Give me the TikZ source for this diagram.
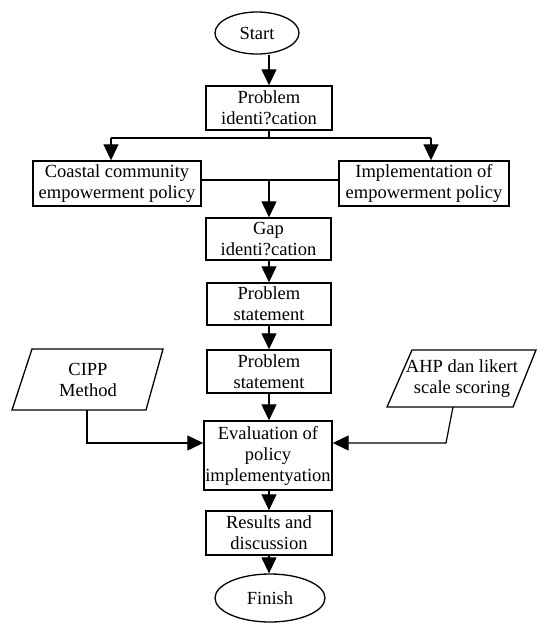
\documentclass[tikz,border=0pt]{standalone}
\usepackage{fontspec}
\setmainfont{Liberation Serif}
\usetikzlibrary{arrows.meta,shapes.geometric}
\begin{document}
\begin{tikzpicture}[x=1pt,y=-1pt,
  every node/.style={font=\fontsize{18.5}{21}\selectfont, align=center, inner sep=0pt},
  stepbox/.style={draw, line width=1.4pt, rectangle},
  term/.style={draw, line width=1.3pt, ellipse},
  para/.style={draw, line width=1.3pt, line join=miter},
  link/.style={line width=1.2pt},
  arr/.style={line width=1.2pt, -{Triangle[length=16pt,width=15pt]}}]
\useasboundingbox (0,0) rectangle (538,625);
\fill[white] (0,0) rectangle (538,625);

\node[term, minimum width=84pt, minimum height=42pt] (start) at (257,33) {Start};
\node[stepbox, minimum width=126pt, minimum height=44pt] (pid) at (269,108) {Problem\\identi?cation};
\node[stepbox, minimum width=168pt, minimum height=45pt] (coastal) at (117,183.5) {Coastal community\\empowerment policy};
\node[stepbox, minimum width=170pt, minimum height=45pt] (impl) at (424,183.5) {Implementation of\\empowerment policy};
\node[stepbox, minimum width=125pt, minimum height=42pt] (gap) at (268.5,239) {Gap\\identi?cation};
\node[stepbox, minimum width=124pt, minimum height=42pt] (ps1) at (269,304) {Problem\\statement};
\node[stepbox, minimum width=124pt, minimum height=43pt] (ps2) at (269,371.5) {Problem\\statement};
\node[stepbox, minimum width=128pt, minimum height=69pt] (eval) at (268,455.5) {Evaluation of\\policy\\implementyation};
\node[stepbox, minimum width=126pt, minimum height=44pt] (res) at (269,533) {Results and\\discussion};
\node[term, minimum width=110pt, minimum height=48pt] (finish) at (270,598) {Finish};

% input parallelograms
\draw[para] (32,349) -- (163,349) -- (146,410) -- (12,410) -- cycle;
\node (cipp) at (88,380) {CIPP\\Method};
\draw[para] (412,350) -- (536,350) -- (513,407) -- (387,407) -- cycle;
\node (ahp) at (462,379) {AHP dan likert\\scale scoring};

% connectors
\draw[arr] (pid.north |- start.south) -- (pid.north);

\coordinate (bl) at (111,138);
\coordinate (br) at (431,138);
\draw[link] (pid.south) -- (pid.south |- bl);
\draw[link] (bl) -- (br);
\draw[arr] (bl) -- (bl |- coastal.north);
\draw[arr] (br) -- (br |- impl.north);

\coordinate (jm) at (269,180);
\draw[link] (coastal.east |- jm) -- (impl.west |- jm);
\draw[arr] (jm) -- (jm |- gap.north);

\draw[arr] (gap.south -| ps1.north) -- (ps1.north);
\draw[arr] (ps1.south) -- (ps2.north);
\draw[arr] (ps2.south) -- (ps2.south |- eval.north);
\draw[arr] (eval.south -| res.north) -- (res.north);
\draw[arr] (res.south) -- (res.south |- finish.north);

\coordinate (cb) at (87,410);
\coordinate (ch) at (87,443);
\draw[arr] (cb) -- (ch) -- (ch -| eval.west);
\coordinate (ab) at (453,407);
\coordinate (ah) at (446,443);
\draw[arr] (ab) -- (ah) -- (ah -| eval.east);
\end{tikzpicture}
\end{document}
